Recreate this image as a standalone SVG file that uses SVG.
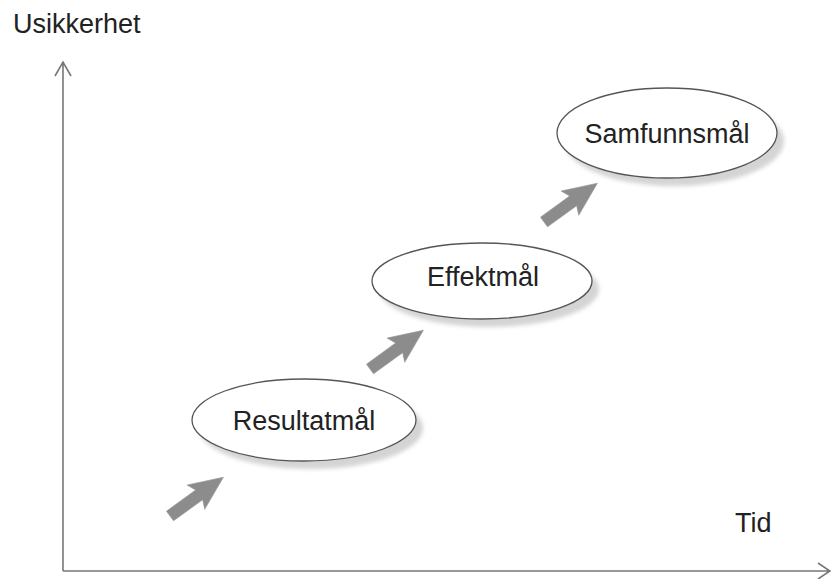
<svg xmlns="http://www.w3.org/2000/svg" width="831" height="579" viewBox="0 0 831 579">
<style>
.lbl{font-family:"Liberation Sans",Arial,sans-serif;font-size:27px;fill:#222}
.ax{stroke:#777;stroke-width:1.6;fill:none}
.sh{fill:#d4d4d4}
.el{fill:#fff;stroke:#555;stroke-width:1.3}
.arr{fill:#8c8c8c;stroke:#9a9a9a;stroke-width:0.6}
</style>
<defs>
<filter id="blur" x="-20%" y="-20%" width="140%" height="140%"><feGaussianBlur stdDeviation="2"/></filter>
<polygon id="blk" points="0,-6 36,-6 32,-15 66,0 32,15 36,6 0,6"/>
</defs>
<rect width="831" height="579" fill="#fff"/>
<g id="axes">
<path class="ax" d="M63,571 V62 M55,76 L63,62 L71,76"/>
<path class="ax" d="M63,571 H829 M818,563 L830,571 L818,579"/>
</g>
<g id="connectors">
<use href="#blk" class="arr" transform="translate(170,516) rotate(-36)"/>
<use href="#blk" class="arr" transform="translate(370,369) rotate(-36)"/>
<use href="#blk" class="arr" transform="translate(544,222) rotate(-36)"/>
</g>
<g id="node-resultatmal">
<ellipse class="sh" cx="311" cy="428" rx="112" ry="41" filter="url(#blur)"/>
<ellipse class="el" cx="304" cy="420" rx="112" ry="41"/>
<text class="lbl" x="304" y="430" text-anchor="middle">Resultatmål</text>
</g>
<g id="node-effektmal">
<ellipse class="sh" cx="489" cy="289" rx="110" ry="38" filter="url(#blur)"/>
<ellipse class="el" cx="482" cy="281" rx="110" ry="38"/>
<text class="lbl" x="483" y="286" text-anchor="middle">Effektmål</text>
</g>
<g id="node-samfunnsmal">
<ellipse class="sh" cx="674" cy="141" rx="110" ry="45" filter="url(#blur)"/>
<ellipse class="el" cx="667" cy="133" rx="110" ry="45"/>
<text class="lbl" x="667" y="143" text-anchor="middle">Samfunnsmål</text>
</g>
<text class="lbl" x="13" y="33">Usikkerhet</text>
<text class="lbl" x="735" y="532">Tid</text>
</svg>
